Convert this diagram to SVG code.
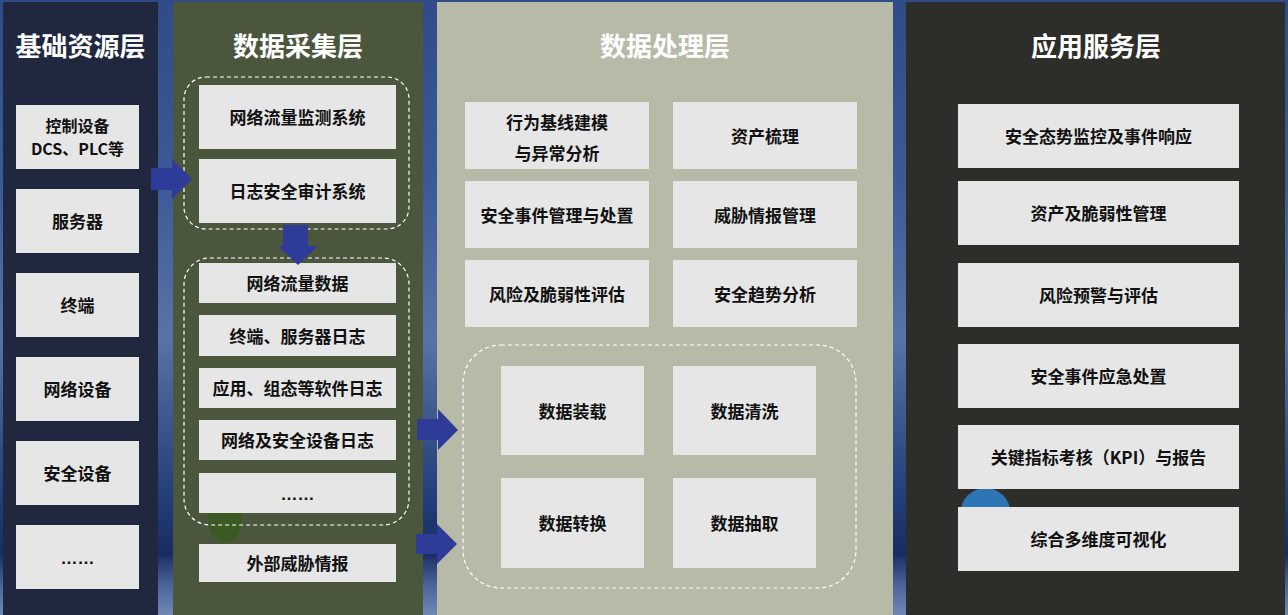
<svg xmlns="http://www.w3.org/2000/svg" width="1288" height="615" viewBox="0 0 1288 615">
<defs>
<linearGradient id="bg" x1="0" y1="0" x2="0" y2="1">
<stop offset="0" stop-color="#2f4c88"/>
<stop offset="0.3" stop-color="#3c5a96"/>
<stop offset="0.55" stop-color="#5873a8"/>
<stop offset="0.68" stop-color="#3d5890"/>
<stop offset="0.8" stop-color="#24407a"/>
<stop offset="0.9" stop-color="#182c64"/>
<stop offset="0.95" stop-color="#4a6398"/>
<stop offset="1" stop-color="#7088b6"/>
</linearGradient>
<style>
.title{font-family:"Noto Sans CJK SC","Noto Sans",sans-serif;font-size:26px;font-weight:bold;fill:#ffffff;text-anchor:middle}
.lbl{font-family:"Noto Sans CJK SC","Noto Sans",sans-serif;font-size:17px;font-weight:bold;fill:#111111;text-anchor:middle}
.lbl2{font-family:"Noto Sans CJK SC","Noto Sans",sans-serif;font-size:16px;font-weight:bold;fill:#111111;text-anchor:middle}
.dots{font-family:"Liberation Sans",sans-serif;font-size:17px;font-weight:bold;fill:#111111;text-anchor:middle}
.box{fill:#e6e6e6}
.dash{fill:none;stroke:#ffffff;stroke-width:1.2;stroke-dasharray:4 3}
.arr{fill:#2e3b98}
</style>
</defs>
<rect x="0" y="0" width="1288" height="615" fill="url(#bg)"/>

<!-- columns -->
<g id="col-base">
<rect x="3" y="2" width="155" height="613" fill="#20283f"/>
<text class="title" x="80.5" y="56">基础资源层</text>
</g>
<g id="col-collect">
<rect x="173" y="2" width="250" height="613" fill="#4b573c"/>
<text class="title" x="298" y="56">数据采集层</text>
<ellipse cx="225" cy="518" rx="17" ry="25" fill="#3b5a22"/>
<rect class="dash" x="184" y="77" width="225" height="152" rx="22"/>
<rect class="dash" x="184" y="258" width="225" height="267" rx="26"/>
</g>
<g id="col-process">
<rect x="437" y="2" width="456" height="613" fill="#b6baa7"/>
<text class="title" x="665" y="56">数据处理层</text>
<rect class="dash" x="463" y="345" width="393" height="243" rx="38"/>
</g>
<g id="col-app">
<rect x="906" y="2" width="379" height="613" fill="#2d2d29"/>
<text class="title" x="1096" y="56">应用服务层</text>
<circle cx="985.5" cy="513" r="25" fill="#2e75b6"/>
</g>

<!-- base layer nodes -->
<g id="n-dcs"><rect class="box" x="16" y="105" width="123" height="64"/><text class="lbl2" x="77.5" y="131.5"><tspan x="77.5" y="131.5">控制设备</tspan><tspan x="77.5" y="155">DCS、PLC等</tspan></text></g>
<g id="n-server"><rect class="box" x="16" y="189" width="123" height="64"/><text class="lbl" x="77.5" y="228">服务器</text></g>
<g id="n-terminal"><rect class="box" x="16" y="273" width="123" height="64"/><text class="lbl" x="77.5" y="312">终端</text></g>
<g id="n-netdev"><rect class="box" x="16" y="357" width="123" height="64"/><text class="lbl" x="77.5" y="396">网络设备</text></g>
<g id="n-secdev"><rect class="box" x="16" y="441" width="123" height="64"/><text class="lbl" x="77.5" y="480">安全设备</text></g>
<g id="n-base-more"><rect class="box" x="16" y="525" width="123" height="64"/><text class="dots" x="77.5" y="564">……</text></g>

<!-- collection layer nodes -->
<g id="n-netmon"><rect class="box" x="199" y="85" width="197" height="64"/><text class="lbl" x="297.5" y="124">网络流量监测系统</text></g>
<g id="n-logaudit"><rect class="box" x="199" y="159" width="197" height="64"/><text class="lbl" x="297.5" y="198">日志安全审计系统</text></g>
<g id="n-netflow"><rect class="box" x="199" y="263" width="197" height="40"/><text class="lbl" x="297.5" y="290">网络流量数据</text></g>
<g id="n-hostlog"><rect class="box" x="199" y="315" width="197" height="41"/><text class="lbl" x="297.5" y="342.5">终端、服务器日志</text></g>
<g id="n-applog"><rect class="box" x="199" y="368" width="197" height="40"/><text class="lbl" x="297.5" y="395">应用、组态等软件日志</text></g>
<g id="n-devlog"><rect class="box" x="199" y="420" width="197" height="40"/><text class="lbl" x="297.5" y="447">网络及安全设备日志</text></g>
<g id="n-col-more"><rect class="box" x="199" y="473" width="197" height="40"/><text class="dots" x="297.5" y="500">……</text></g>
<g id="n-threatintel"><rect class="box" x="199" y="544" width="197" height="38"/><text class="lbl" x="297.5" y="570">外部威胁情报</text></g>

<!-- processing layer nodes -->
<g id="n-baseline"><rect class="box" x="465" y="102" width="184" height="67"/><text class="lbl" x="557" y="129"><tspan x="557" y="129">行为基线建模</tspan><tspan x="557" y="160">与异常分析</tspan></text></g>
<g id="n-asset"><rect class="box" x="673" y="102" width="184" height="67"/><text class="lbl" x="765" y="142.5">资产梳理</text></g>
<g id="n-incident"><rect class="box" x="465" y="181" width="184" height="67"/><text class="lbl" x="557" y="221.5">安全事件管理与处置</text></g>
<g id="n-ti-mgmt"><rect class="box" x="673" y="181" width="184" height="67"/><text class="lbl" x="765" y="221.5">威胁情报管理</text></g>
<g id="n-risk"><rect class="box" x="465" y="260" width="184" height="67"/><text class="lbl" x="557" y="300.5">风险及脆弱性评估</text></g>
<g id="n-trend"><rect class="box" x="673" y="260" width="184" height="67"/><text class="lbl" x="765" y="300.5">安全趋势分析</text></g>
<g id="n-load"><rect class="box" x="501" y="366" width="143" height="89"/><text class="lbl" x="572.5" y="417.5">数据装载</text></g>
<g id="n-clean"><rect class="box" x="673" y="366" width="143" height="89"/><text class="lbl" x="744.5" y="417.5">数据清洗</text></g>
<g id="n-transform"><rect class="box" x="501" y="478" width="143" height="90"/><text class="lbl" x="572.5" y="530">数据转换</text></g>
<g id="n-extract"><rect class="box" x="673" y="478" width="143" height="90"/><text class="lbl" x="744.5" y="530">数据抽取</text></g>

<!-- application layer nodes -->
<g id="n-situation"><rect class="box" x="958" y="104" width="281" height="64"/><text class="lbl" x="1098.5" y="143">安全态势监控及事件响应</text></g>
<g id="n-vuln"><rect class="box" x="958" y="181" width="281" height="64"/><text class="lbl" x="1098.5" y="220">资产及脆弱性管理</text></g>
<g id="n-warning"><rect class="box" x="958" y="263" width="281" height="64"/><text class="lbl" x="1098.5" y="302">风险预警与评估</text></g>
<g id="n-emergency"><rect class="box" x="958" y="344" width="281" height="64"/><text class="lbl" x="1098.5" y="383">安全事件应急处置</text></g>
<g id="n-kpi"><rect class="box" x="958" y="425" width="281" height="64"/><text class="lbl" x="1098.5" y="464">关键指标考核（KPI）与报告</text></g>
<g id="n-visual"><rect class="box" x="958" y="507" width="281" height="64"/><text class="lbl" x="1098.5" y="546">综合多维度可视化</text></g>

<!-- connectors -->
<g id="connectors">
<polygon class="arr" points="151,168 172,168 172,159 192,179 172,199 172,190 151,190"/>
<polygon class="arr" points="283,225 308,225 308,246 318,246 298,265 278,246 283,246"/>
<polygon class="arr" points="417,419 438,419 438,409 458,430 438,450 438,440 417,440"/>
<polygon class="arr" points="416,534 437,534 437,524 457,544 437,564 437,554 416,554"/>
</g>
</svg>
